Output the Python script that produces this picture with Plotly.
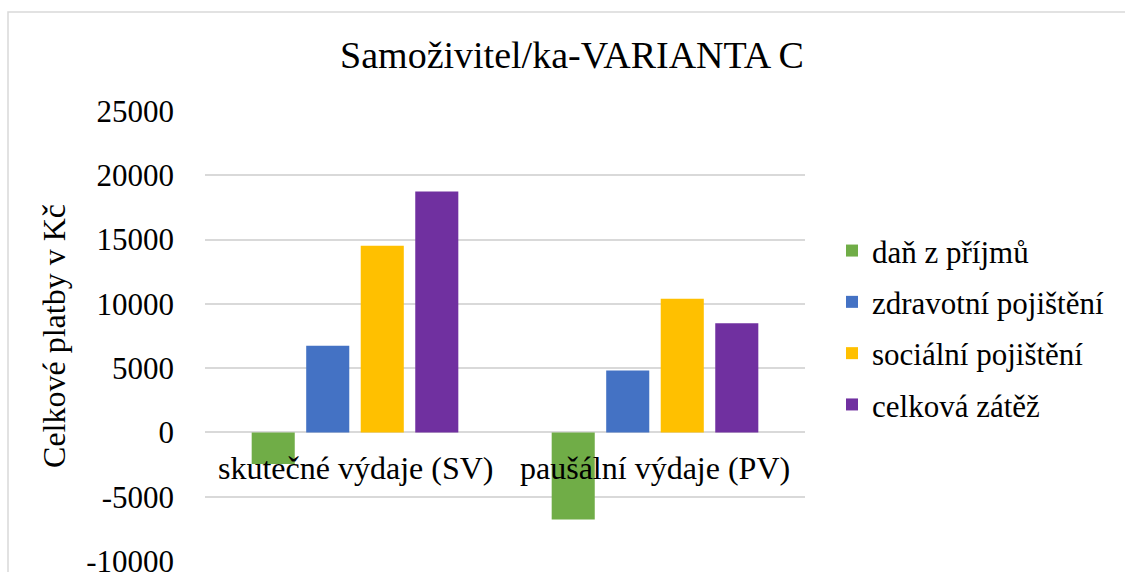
import plotly.graph_objects as go

categories = ["skutečné výdaje (SV)", "paušální výdaje (PV)"]
series_names = ["daň z příjmů", "zdravotní pojištění", "sociální pojištění", "celková zátěž"]
dan = [-2450, -6770]
zdravotni = [6750, 4820]
socialni = [14520, 10390]
celkova = [18740, 8490]
colors = ["#70AD47", "#4472C4", "#FFC000", "#7030A0"]
y_ticks = [-10000, -5000, 0, 5000, 10000, 15000, 20000, 25000]

FONT = "Times New Roman, Liberation Serif, DejaVu Serif, serif"

fig = go.Figure()
for i, (name, vals) in enumerate(zip(series_names, [dan, zdravotni, socialni, celkova])):
    fig.add_trace(go.Bar(
        x=categories, y=vals, name=name,
        marker=dict(color=colors[i], line=dict(width=0)),
        legendgroup=f"g{i}",
    ))

for c in categories:
    fig.add_annotation(x=c, y=0, xref="x", yref="y", text=c, showarrow=False,
                       yanchor="top", yshift=-16,
                       font=dict(family=FONT, size=32, color="#000000"))

fig.update_layout(
    width=1125, height=572,
    paper_bgcolor="white", plot_bgcolor="white",
    margin=dict(l=205, r=320, t=111, b=11, autoexpand=False),
    barmode="group", bargap=0.273, bargroupgap=0.21,
    font=dict(family=FONT, size=32, color="#000000"),
    title=dict(text="Samoživitel/ka-VARIANTA C", x=572/1125, xanchor="center",
               y=1 - 55/572, yanchor="middle",
               font=dict(family=FONT, size=38, color="#000000")),
    legend=dict(x=1.045, xanchor="left", y=0.518, yanchor="middle",
                font=dict(family=FONT, size=31, color="#000000"),
                tracegroupgap=8, itemwidth=30, bgcolor="rgba(0,0,0,0)"),
    showlegend=True,
)
fig.update_xaxes(showticklabels=False, showgrid=False, zeroline=False, showline=False,
                 ticks="")
fig.update_yaxes(range=[-10000, 25000], tickvals=y_ticks, ticktext=[str(v) for v in y_ticks],
                 showgrid=True, gridcolor="#D9D9D9", gridwidth=1.5,
                 zeroline=True, zerolinecolor="#D9D9D9", zerolinewidth=1.5,
                 showline=False, ticks="", ticklabelstandoff=30, automargin=False,
                 ticklabeloverflow="allow",
                 tickfont=dict(family=FONT, size=31, color="#000000"),
                 title=dict(text="Celkové platby v Kč", standoff=10,
                            font=dict(family=FONT, size=32, color="#000000")))

# chart border (cropped at right/bottom)
fig.add_shape(type="rect", xref="paper", yref="paper",
              x0=(8 - 205) / 600, x1=(1140 - 205) / 600,
              y0=(561 - 590) / 450, y1=(561 - 12) / 450,
              line=dict(color="#D9D9D9", width=1.5), fillcolor="rgba(0,0,0,0)", layer="below")

fig.write_html("out.html", config={"displayModeBar": False},
               post_script="document.body.style.margin='0';document.body.style.overflow='hidden';")
